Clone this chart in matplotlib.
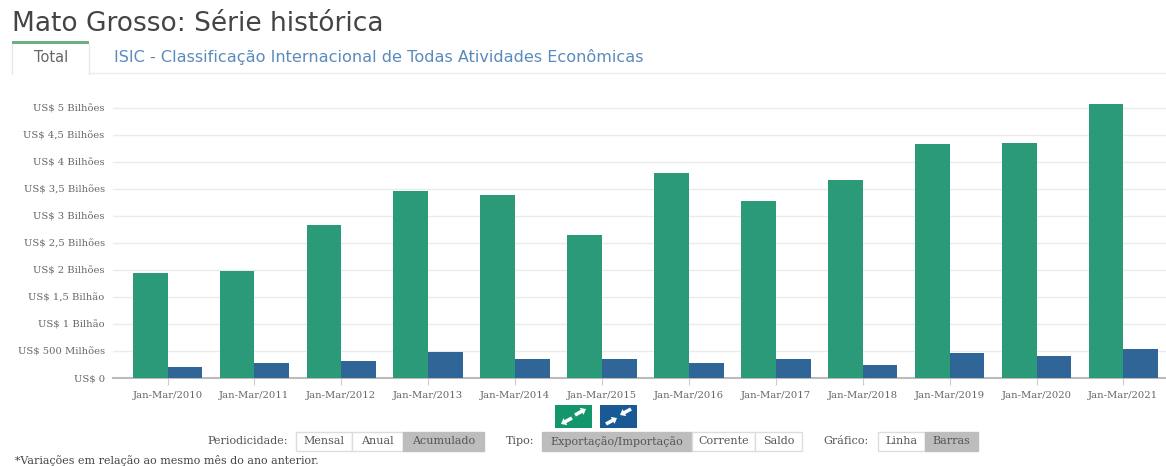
import matplotlib
matplotlib.use("Agg")
import matplotlib.pyplot as plt
from matplotlib.patches import Rectangle, FancyArrow
import numpy as np

periods = ["Jan-Mar/2010", "Jan-Mar/2011", "Jan-Mar/2012", "Jan-Mar/2013",
           "Jan-Mar/2014", "Jan-Mar/2015", "Jan-Mar/2016", "Jan-Mar/2017",
           "Jan-Mar/2018", "Jan-Mar/2019", "Jan-Mar/2020", "Jan-Mar/2021"]
exports = [1.94, 1.98, 2.83, 3.46, 3.39, 2.65, 3.80, 3.28, 3.67, 4.33, 4.35, 5.07]
imports = [0.20, 0.27, 0.32, 0.48, 0.35, 0.35, 0.28, 0.35, 0.24, 0.47, 0.41, 0.53]
y_ticks = [0, 0.5, 1, 1.5, 2, 2.5, 3, 3.5, 4, 4.5, 5]
y_labels = ["US$ 0", "US$ 500 Milhões", "US$ 1 Bilhão", "US$ 1,5 Bilhão",
            "US$ 2 Bilhões", "US$ 2,5 Bilhões", "US$ 3 Bilhões", "US$ 3,5 Bilhões",
            "US$ 4 Bilhões", "US$ 4,5 Bilhões", "US$ 5 Bilhões"]

GREEN = "#2b9a78"
BLUE = "#2f6697"
SERIF = "DejaVu Serif"
SANS = "DejaVu Sans"
W, H = 1166, 466

fig = plt.figure(figsize=(W / 100, H / 100), dpi=100)

# chart area, placed in pixels of the page
ax = fig.add_axes([113 / W, 1 - 378 / H, (W - 113) / W, (378 - 100) / H])
x = np.arange(len(periods))
ax.bar(x - 0.2, exports, width=0.4, color=GREEN, zorder=3)
ax.bar(x + 0.2, imports, width=0.4, color=BLUE, zorder=3)
ax.set_xlim(-0.628, 11.49)
ax.set_ylim(0, 278 / 54)
ax.set_yticks(y_ticks)
ax.set_yticklabels(y_labels, family=SERIF, fontsize=7.2, color="#666666")
ax.set_xticks(x)
ax.set_xticklabels(periods, family=SERIF, fontsize=7.2, color="#666666")
ax.tick_params(axis="y", length=0, pad=6)
ax.tick_params(axis="x", length=5, color="#cccccc", pad=4)
ax.grid(axis="y", color="#ebebeb", linewidth=1, zorder=0)
for side in ["top", "left", "right"]:
    ax.spines[side].set_visible(False)
ax.spines["bottom"].set_color("#bbbbbb")
ax.spines["bottom"].set_linewidth(1.5)

# page elements around the chart
page = fig.add_axes([0, 0, 1, 1], zorder=-1)
over = fig.add_axes([0, 0, 1, 1], zorder=5)
for a in (page, over):
    a.set_xlim(0, W)
    a.set_ylim(H, 0)
    a.axis("off")
    a.patch.set_alpha(0)

over.text(12, 24, "Mato Grosso: Série histórica", fontsize=19, color="#444444",
          family=SANS, va="center")
page.plot([89, W], [73, 73], color="#eeeeee", lw=1)
page.plot([12, 12], [44, 74], color="#e8e8e8", lw=1)
page.plot([89, 89], [44, 74], color="#e8e8e8", lw=1)
over.add_patch(Rectangle((12, 41), 77, 3, fc="#6fae82", ec="none"))
over.text(51, 58, "Total", fontsize=10.5, color="#666666", family=SANS,
          ha="center", va="center")
over.text(114, 57, "ISIC - Classificação Internacional de Todas Atividades Econômicas",
          fontsize=11.65, color="#5a8bbd", family=SANS, va="center")

# expand / collapse buttons
for bx, col in [(555, "#13966b"), (600, "#1a5a94")]:
    over.add_patch(Rectangle((bx, 405), 37, 23, fc=col, ec="none"))
for bx, flip in [(555, True), (600, False)]:
    for x0, y0, dx, dy in [(bx + 6, 424, 11, -6), (bx + 31, 409, -11, 6)]:
        if flip:
            x0, y0, dx, dy = x0 + dx, y0 + dy, -dx, -dy
        over.add_patch(FancyArrow(x0, y0, dx, dy, width=3.5, head_width=8, head_length=5,
                                  length_includes_head=True, fc="white", ec="none"))

# button groups: (left, right, label, active)
buttons = [(296, 352, "Mensal", False), (352, 403, "Anual", False),
           (403, 484, "Acumulado", True), (542, 692, "Exportação/Importação", True),
           (692, 755, "Corrente", False), (755, 802, "Saldo", False),
           (878, 925, "Linha", False), (925, 978, "Barras", True)]
for left, right, label, active in buttons:
    over.add_patch(Rectangle((left, 432), right - left, 19,
                             fc="#bdbdbd" if active else "white",
                             ec="#bdbdbd" if active else "#dddddd", lw=1))
    over.text((left + right) / 2, 441.5, label, fontsize=8, family=SERIF,
              color="#555555", ha="center", va="center")
for px, label in [(288, "Periodicidade:"), (534, "Tipo:"), (869, "Gráfico:")]:
    over.text(px, 441.5, label, fontsize=8, family=SERIF, color="#555555",
              ha="right", va="center")
over.text(15, 461, "*Variações em relação ao mesmo mês do ano anterior.", fontsize=7.9,
          family=SERIF, color="#444444", va="center")

fig.savefig("out.png", dpi=100)
